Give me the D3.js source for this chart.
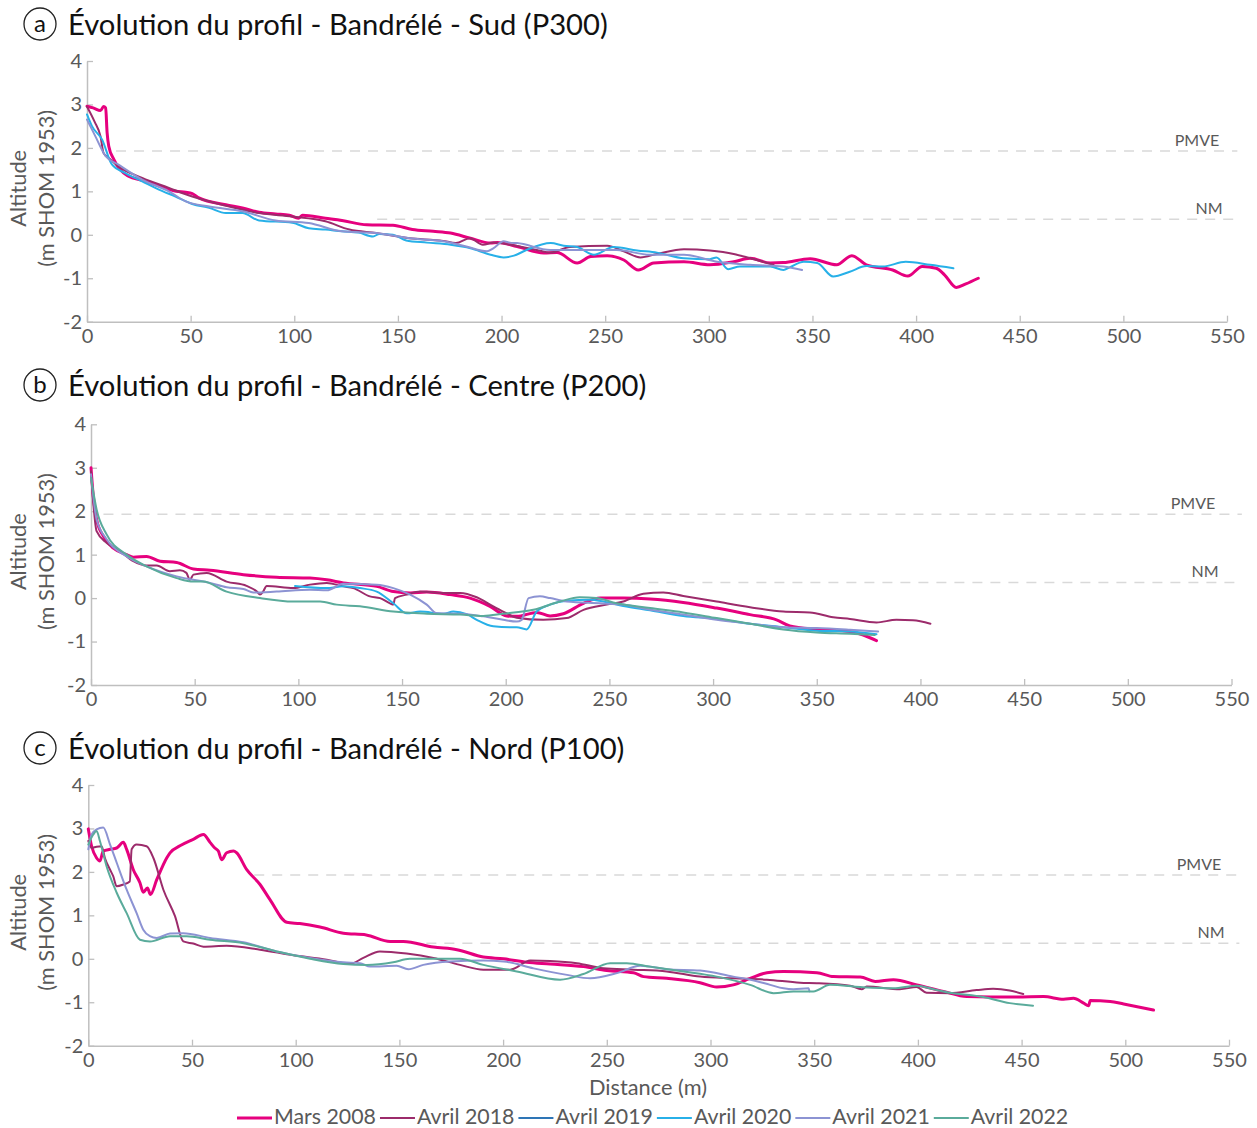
<!DOCTYPE html>
<html><head><meta charset="utf-8">
<script src="https://cdn.jsdelivr.net/npm/d3@7"></script>
<style>
body{margin:0;background:#fff;}
svg text{font-family:Lato,"Open Sans",sans-serif;}
</style></head>
<body>
<svg id="chart" width="1257" height="1128"></svg>
<script>
// ---------------- DATA ----------------
const seriesNames = ["Mars 2008","Avril 2018","Avril 2019","Avril 2020","Avril 2021","Avril 2022"];
const seriesColors = ["#e6007e","#9c2b6b","#2e75b6","#27b0e8","#8c93d3","#5aab9b"];
const seriesWidths = [3,2,2,2,2,2];

const panelTitles = ["Évolution du profil - Bandrélé - Sud (P300)","Évolution du profil - Bandrélé - Centre (P200)","Évolution du profil - Bandrélé - Nord (P100)"];
const panelLetters = ["a","b","c"];
const xTicks = [0,50,100,150,200,250,300,350,400,450,500,550];
const yTicks = [-2,-1,0,1,2,3,4];
const refNames = ["PMVE","NM"];
const refValues = [1.93,0.36];
// start distance of each dashed reference line, per panel [PMVE, NM]
const refStarts = [[14,140],[6,182],[80,163]];
const refEnd = 555;

// Panel a : Sud (P300)
const sud2008 = [[0,2.96],[3,2.92],[6.5,2.86],[8,2.95],[9,2.92],[9.7,2.35],[10.5,2.04],[13,1.73],[16,1.5],[20,1.35],[27,1.25],[35,1.12],[43,1.0],[47.6,0.98],[50.8,0.95],[54,0.85],[67,0.69],[75,0.62],[83,0.52],[91,0.48],[97.6,0.45],[102,0.38],[104,0.45],[115,0.38],[123,0.33],[135,0.23],[147.6,0.22],[157,0.12],[167,0.08],[175.4,0.04],[185,-0.08],[194.7,-0.19],[198,-0.18],[207.5,-0.27],[220.4,-0.42],[226.8,-0.41],[236.5,-0.65],[243,-0.5],[251,-0.48],[259,-0.58],[266,-0.81],[273.4,-0.65],[288,-0.62],[300.5,-0.69],[312,-0.62],[320,-0.54],[329.6,-0.65],[336,-0.64],[348.9,-0.55],[361.7,-0.69],[369,-0.48],[376,-0.69],[388.7,-0.81],[396,-0.95],[403,-0.73],[409.7,-0.77],[413.7,-0.92],[419.4,-1.21],[424,-1.13],[430,-1.0]];
const sud2018 = [[0,2.95],[3.7,2.6],[6.5,2.27],[8,1.88],[10.5,1.77],[15,1.58],[26.6,1.31],[39.5,1.08],[50.8,0.88],[67,0.67],[83,0.5],[99,0.42],[115,0.31],[126.6,0.12],[139.5,0.04],[155.6,-0.08],[171.8,-0.14],[178,-0.19],[184.7,-0.08],[191,-0.23],[196,-0.18],[204.3,-0.23],[217,-0.35],[223.6,-0.41],[233,-0.28],[251,-0.25],[259,-0.38],[267,-0.52],[275,-0.44],[288,-0.33],[300.5,-0.36],[312,-0.44],[320,-0.54],[331.2,-0.69]];
const sud2019 = [];
const sud2020 = [[0,2.77],[2.4,2.5],[7.3,2.19],[12,1.62],[18.5,1.42],[26.6,1.23],[34.7,1.04],[42.7,0.88],[50.8,0.71],[58.9,0.62],[67,0.5],[75,0.5],[83,0.33],[99,0.28],[107,0.15],[115,0.12],[123,0.08],[131,0.05],[138,-0.04],[141,0.02],[147.6,0],[154,-0.13],[164,-0.18],[175.4,-0.23],[185,-0.31],[194.7,-0.46],[201,-0.52],[206,-0.48],[212,-0.35],[223.7,-0.19],[230,-0.25],[236.5,-0.28],[244.6,-0.46],[254,-0.28],[265.4,-0.36],[275,-0.41],[288,-0.54],[300.5,-0.56],[303.7,-0.52],[309.3,-0.79],[315,-0.73],[329.6,-0.73],[336,-0.81],[339,-0.75],[345.8,-0.62],[352.3,-0.65],[360,-0.96],[368,-0.85],[376,-0.72],[384,-0.73],[395,-0.62],[406.8,-0.69],[418,-0.77]];
const sud2021 = [[0,2.65],[4,2.27],[9,1.81],[15,1.62],[26.6,1.27],[39.5,1.0],[47.6,0.77],[59,0.65],[75,0.54],[91,0.33],[107,0.27],[123,0.08],[139.5,0.04],[155.6,-0.08],[171.8,-0.15],[183,-0.27],[193,-0.38],[196,-0.31],[201,-0.15],[204,-0.18],[207.5,-0.19],[223.6,-0.35],[239.6,-0.35],[255.6,-0.35],[271.6,-0.46],[288,-0.46],[304,-0.62],[320,-0.69],[336,-0.73],[345,-0.81]];
const sud2022 = [];

// Panel b : Centre (P200)
const centre2008 = [[0,3.0],[1.1,2.35],[2.7,1.81],[6,1.42],[10.8,1.15],[17.2,1.0],[20.4,0.94],[26.8,0.96],[33.3,0.85],[41.3,0.82],[49.4,0.67],[57.4,0.64],[73.5,0.54],[89.5,0.48],[105.6,0.46],[113.7,0.42],[121.7,0.35],[137.8,0.27],[145.8,0.15],[153.9,0.12],[161.9,0.14],[173.2,0.08],[182.8,0.0],[192.4,-0.19],[200.5,-0.41],[205.3,-0.42],[215,-0.33],[221.4,-0.41],[227.8,-0.36],[237.5,-0.12],[245.5,0],[256.7,0],[269.6,-0.02],[285.6,-0.1],[301.7,-0.23],[317.8,-0.38],[330.6,-0.5],[337,-0.64],[349.9,-0.72],[366,-0.77],[372.4,-0.85],[378.8,-0.98]];
const centre2018 = [[0,2.92],[1.1,2.19],[2.7,1.54],[7.6,1.27],[14,1.08],[20.4,0.85],[26.8,0.75],[31.7,0.75],[38,0.62],[42.9,0.64],[46,0.58],[47.7,0.42],[49.4,0.54],[55.8,0.58],[65.4,0.38],[75,0.28],[80,0.15],[81.5,0.08],[83,0.15],[84.7,0.28],[97.6,0.23],[105.6,0.31],[113.7,0.35],[121.7,0.27],[126.5,0.23],[134.5,0.04],[139.4,0],[144.2,-0.12],[145.8,-0.15],[146.6,0],[152.3,0.08],[158.7,0.15],[170,0.12],[178,0.12],[186,0.02],[194,-0.19],[200.5,-0.35],[205.3,-0.45],[218.1,-0.5],[229.4,-0.46],[237.5,-0.27],[248.7,-0.15],[256.7,-0.08],[266.4,0.1],[276,0.13],[285.6,0.05],[301.7,-0.08],[317.8,-0.21],[333.9,-0.31],[346.7,-0.33],[357.9,-0.44],[366,-0.48],[378.8,-0.56],[388.4,-0.5],[396.4,-0.51],[404.8,-0.59]];
const centre2019 = [];
const centre2020 = [[98.4,0.28],[113.7,0.23],[121.7,0.27],[129.7,0.23],[137.8,0.15],[145.8,-0.12],[152.3,-0.35],[158.7,-0.31],[170,-0.36],[174.7,-0.31],[181.2,-0.37],[186,-0.5],[194,-0.65],[202,-0.67],[205.3,-0.67],[210.1,-0.72],[214.9,-0.31],[221.4,-0.15],[229.4,-0.06],[240.7,-0.04],[247.1,-0.08],[256.7,-0.18],[269.6,-0.28],[285.6,-0.41],[301.7,-0.48],[317.8,-0.59],[333.9,-0.67],[349.9,-0.75],[366,-0.77],[378.8,-0.83]];
const centre2021 = [[0,2.85],[2.7,1.81],[7.6,1.35],[17.2,0.96],[26.8,0.73],[41.3,0.5],[57.4,0.35],[65.4,0.25],[73.5,0.21],[78.3,0.13],[89.5,0.15],[105.6,0.19],[113.7,0.18],[121.7,0.33],[137.8,0.31],[145.8,0.23],[153.9,0.08],[161.9,-0.15],[166.8,-0.35],[178,-0.36],[189.2,-0.42],[198.8,-0.5],[205.3,-0.54],[207.7,-0.5],[211,0],[216.5,0.04],[221.4,0],[229.4,-0.08],[245.5,-0.12],[256.7,-0.15],[269.6,-0.27],[285.6,-0.38],[301.7,-0.5],[317.8,-0.59],[333.9,-0.67],[349.9,-0.69],[366,-0.73],[379.6,-0.77]];
const centre2022 = [[0,2.77],[2.7,2.04],[7.6,1.46],[17.2,1.0],[26.8,0.73],[41.3,0.46],[49.4,0.38],[54,0.38],[65.4,0.15],[81.5,0],[97.6,-0.08],[110.5,-0.08],[118.5,-0.15],[129.7,-0.19],[145.8,-0.31],[161.9,-0.36],[178,-0.38],[189.2,-0.41],[198.8,-0.36],[213.3,-0.27],[226.1,-0.08],[235.7,0.02],[243.8,0],[253.4,-0.12],[269.6,-0.23],[285.6,-0.33],[301.7,-0.46],[317.8,-0.59],[333.9,-0.72],[349.9,-0.79],[366,-0.82],[378,-0.85]];

// Panel c : Nord (P100)
const nord2008 = [[0,2.99],[1.6,2.59],[4,2.32],[5.6,2.25],[7.2,2.48],[10.5,2.52],[13.7,2.55],[16.9,2.68],[18.5,2.52],[21.7,2.05],[24.9,1.75],[26.5,1.53],[28.5,1.63],[30,1.48],[33,1.82],[37.8,2.32],[39.4,2.44],[44.2,2.6],[50.6,2.75],[55.5,2.86],[58.7,2.68],[61,2.55],[62.7,2.48],[64.3,2.28],[66.7,2.44],[70,2.48],[71.5,2.44],[76.4,2.05],[82.8,1.71],[87.6,1.36],[95.7,0.84],[102,0.81],[111.7,0.73],[123,0.59],[134,0.55],[145.5,0.4],[151.9,0.4],[166.4,0.27],[177.7,0.21],[190.5,0.04],[200.2,0],[211.4,-0.08],[222.7,-0.12],[238.7,-0.18],[250,-0.27],[262.9,-0.32],[267.7,-0.41],[278.9,-0.45],[295,-0.55],[303,-0.65],[311,-0.6],[319.1,-0.45],[327.2,-0.32],[335.2,-0.29],[351.3,-0.32],[359.3,-0.41],[372.2,-0.42],[379.4,-0.52],[388.2,-0.48],[399.5,-0.6],[412.3,-0.75],[423.6,-0.87],[434.9,-0.88],[447.7,-0.88],[460.6,-0.87],[470.2,-0.93],[475,-0.91],[479.9,-1.02],[482.3,-1.08],[483.1,-0.96],[492.7,-0.98],[499.2,-1.04],[513.6,-1.18]];
const nord2018 = [[0,2.71],[1.6,2.55],[4,2.58],[6.4,2.59],[8,2.32],[10.5,2.05],[12,1.9],[13.7,1.67],[16.9,1.71],[20,1.78],[20.9,2.52],[23.3,2.63],[28.1,2.59],[31.4,2.32],[36.2,1.59],[41.8,0.98],[45.8,0.4],[50.6,0.35],[55.5,0.28],[66.7,0.3],[82.8,0.21],[98.9,0.08],[115,-0.02],[126,-0.12],[132.6,0.02],[140.6,0.17],[153.5,0.12],[166.4,0.02],[179.2,-0.14],[190.5,-0.25],[203.4,-0.25],[213.1,-0.04],[222.7,-0.05],[235.6,-0.1],[248.4,-0.22],[262.9,-0.25],[278.9,-0.29],[295,-0.41],[311,-0.45],[327.2,-0.48],[343.2,-0.55],[351.3,-0.56],[367.3,-0.62],[372.9,-0.7],[375.3,-0.64],[391.3,-0.7],[399.4,-0.65],[404.2,-0.78],[415.4,-0.79],[428.3,-0.72],[436.3,-0.69],[444.3,-0.73],[450.8,-0.81]];
const nord2019 = [];
const nord2020 = [];
const nord2021 = [[0,2.52],[1.6,2.86],[4,2.98],[7.2,3.02],[10.5,2.63],[13.7,2.21],[18.5,1.59],[23.3,1.05],[26.5,0.67],[29.7,0.52],[33,0.48],[39.4,0.58],[45.8,0.59],[58.7,0.48],[74.8,0.38],[90.8,0.17],[106.9,0.02],[123,-0.08],[131,-0.1],[135.9,-0.18],[148.7,-0.16],[154.3,-0.24],[161.5,-0.14],[174.4,-0.06],[190.5,-0.04],[200.2,-0.06],[214.7,-0.22],[230.8,-0.37],[242,-0.45],[254.9,-0.33],[266.1,-0.16],[279,-0.24],[295,-0.27],[311,-0.41],[319.2,-0.48],[328.8,-0.6],[335.2,-0.68],[340,-0.7],[347.3,-0.68],[347.7,-0.75]];
const nord2022 = [[0,2.63],[2.4,2.86],[4,2.94],[5.6,2.71],[8.8,2.13],[13.7,1.52],[18.5,1.05],[24.9,0.44],[29.7,0.4],[39.4,0.52],[47.4,0.52],[58.7,0.44],[74.8,0.36],[90.8,0.17],[106.9,0],[123,-0.12],[134.3,-0.14],[147,-0.08],[155,0],[166.4,0],[179.2,0],[190.5,-0.14],[206.6,-0.29],[227.5,-0.48],[238.7,-0.35],[251.6,-0.1],[259.6,-0.1],[270.9,-0.18],[287,-0.29],[303,-0.41],[319.1,-0.6],[330.4,-0.79],[340,-0.75],[349.6,-0.75],[357.6,-0.6],[372.2,-0.65],[388.2,-0.68],[399.5,-0.62],[407.5,-0.7],[415.5,-0.78],[431.5,-0.88],[444.3,-1.02],[455.5,-1.08]];

const panelSeries = [
  [sud2008, sud2018, sud2019, sud2020, sud2021, sud2022],
  [centre2008, centre2018, centre2019, centre2020, centre2021, centre2022],
  [nord2008, nord2018, nord2019, nord2020, nord2021, nord2022]
];

// ---------------- LAYOUT ----------------
const panels = [
  {left:87,  right:1227,   top:61,    bottom:321.7, titleY:24,  labelDx:[1197,1209]},
  {left:91,  right:1231.5, top:424.3, bottom:685,   titleY:385, labelDx:[1193,1205]},
  {left:88.3,right:1229,   top:785,   bottom:1045.7,titleY:748, labelDx:[1199,1211]}
];
const textGray = "#595959";
const axisGray = "#bfbfbf";

const svg = d3.select("#chart");

function fitFont(sel, target){
  sel.style("font-size","100px");
  const w = sel.node().getComputedTextLength();
  const fs = 100*target/w;
  sel.style("font-size", fs+"px");
  return fs;
}

const probe = svg.append("text").text(panelTitles[0]);
const titleFS = fitFont(probe, 540);
probe.remove();
const probe2 = svg.append("text").text("(m SHOM 1953)");
const yTitleFS = fitFont(probe2, 157);
probe2.remove();

const numFmt = d => String(d);  // plain hyphen-minus as in the original

panels.forEach((p,i)=>{
  const x = d3.scaleLinear().domain([0,550]).range([p.left,p.right]);
  const y = d3.scaleLinear().domain([-2,4]).range([p.bottom,p.top]);
  const g = svg.append("g");

  // title
  g.append("circle").attr("cx",40).attr("cy",p.titleY).attr("r",16)
    .attr("fill","none").attr("stroke","#222").attr("stroke-width",1.3);
  g.append("text").attr("x",40).attr("y",p.titleY).attr("dy","0.33em")
    .attr("text-anchor","middle").style("font-size","24px").attr("fill","#111")
    .text(panelLetters[i]);
  g.append("text").attr("x",68).attr("y",p.titleY).attr("dy","0.36em")
    .style("font-size",titleFS+"px").attr("fill","#111").text(panelTitles[i]);

  // reference dashed lines
  refValues.forEach((v,k)=>{
    g.append("line").attr("x1",x(refStarts[i][k])).attr("x2",x(refEnd))
      .attr("y1",y(v)).attr("y2",y(v))
      .attr("stroke","#d9d9d9").attr("stroke-width",1.5).attr("stroke-dasharray","10,8");
    g.append("text").attr("x",p.labelDx[k]).attr("y",y(v)-5)
      .attr("text-anchor","middle").style("font-size","16px").attr("fill",textGray)
      .text(refNames[k]);
  });

  // axes
  const yAxis = d3.axisLeft(y).tickValues(yTicks).tickFormat(numFmt)
    .tickSizeInner(-6).tickSizeOuter(0).tickPadding(5);
  const ya = g.append("g").attr("transform",`translate(${p.left},0)`).call(yAxis);
  const xAxis = d3.axisBottom(x).tickValues(xTicks).tickFormat(numFmt)
    .tickSizeInner(-6).tickSizeOuter(0).tickPadding(5);
  const xa = g.append("g").attr("transform",`translate(0,${p.bottom})`).call(xAxis);
  [ya,xa].forEach(a=>{
    a.select(".domain").attr("stroke",axisGray).attr("stroke-width",1.5);
    a.selectAll(".tick line").attr("stroke",axisGray).attr("stroke-width",1.3);
    a.selectAll(".tick text").attr("fill",textGray).style("font-size","20px")
      .style("font-family","Lato, sans-serif");
  });
  xa.selectAll(".tick text").attr("dy","0.8em");

  // y title
  const cy = (p.top+p.bottom)/2 - 3;
  g.append("text").attr("transform",`translate(18,${cy}) rotate(-90)`)
    .attr("text-anchor","middle").attr("dy","0.35em")
    .style("font-size",yTitleFS+"px").attr("fill",textGray).text("Altitude");
  g.append("text").attr("transform",`translate(46,${cy}) rotate(-90)`)
    .attr("text-anchor","middle").attr("dy","0.35em")
    .style("font-size",yTitleFS+"px").attr("fill",textGray).text("(m SHOM 1953)");

  // lines
  const line = d3.line().x(d=>x(d[0])).y(d=>y(d[1])).curve(d3.curveMonotoneX);
  panelSeries[i].forEach((data,s)=>{
    if(!data.length) return;
    g.append("path").datum(data).attr("d",line).attr("fill","none")
      .attr("stroke",seriesColors[s]).attr("stroke-width",seriesWidths[s])
      .attr("stroke-linejoin","round").attr("stroke-linecap","round");
  });
});

// x title
const xt = svg.append("text").attr("x",648).attr("y",1087).attr("dy","0.35em")
  .attr("text-anchor","middle").attr("fill",textGray).text("Distance (m)");
fitFont(xt,118);

// legend
const lp = svg.append("text").text("Mars 2008");
const legFS = fitFont(lp,102);
lp.remove();
let lx = 237;
const ly = 1117;
seriesNames.forEach((n,s)=>{
  svg.append("line").attr("x1",lx).attr("x2",lx+35).attr("y1",ly+1).attr("y2",ly+1)
    .attr("stroke",seriesColors[s]).attr("stroke-width",seriesWidths[s]);
  const t = svg.append("text").attr("x",lx+37).attr("y",ly).attr("dy","0.35em")
    .style("font-size",legFS+"px").attr("fill",textGray).text(n);
  lx += 37 + t.node().getComputedTextLength() + 4;
});
</script>
</body></html>
